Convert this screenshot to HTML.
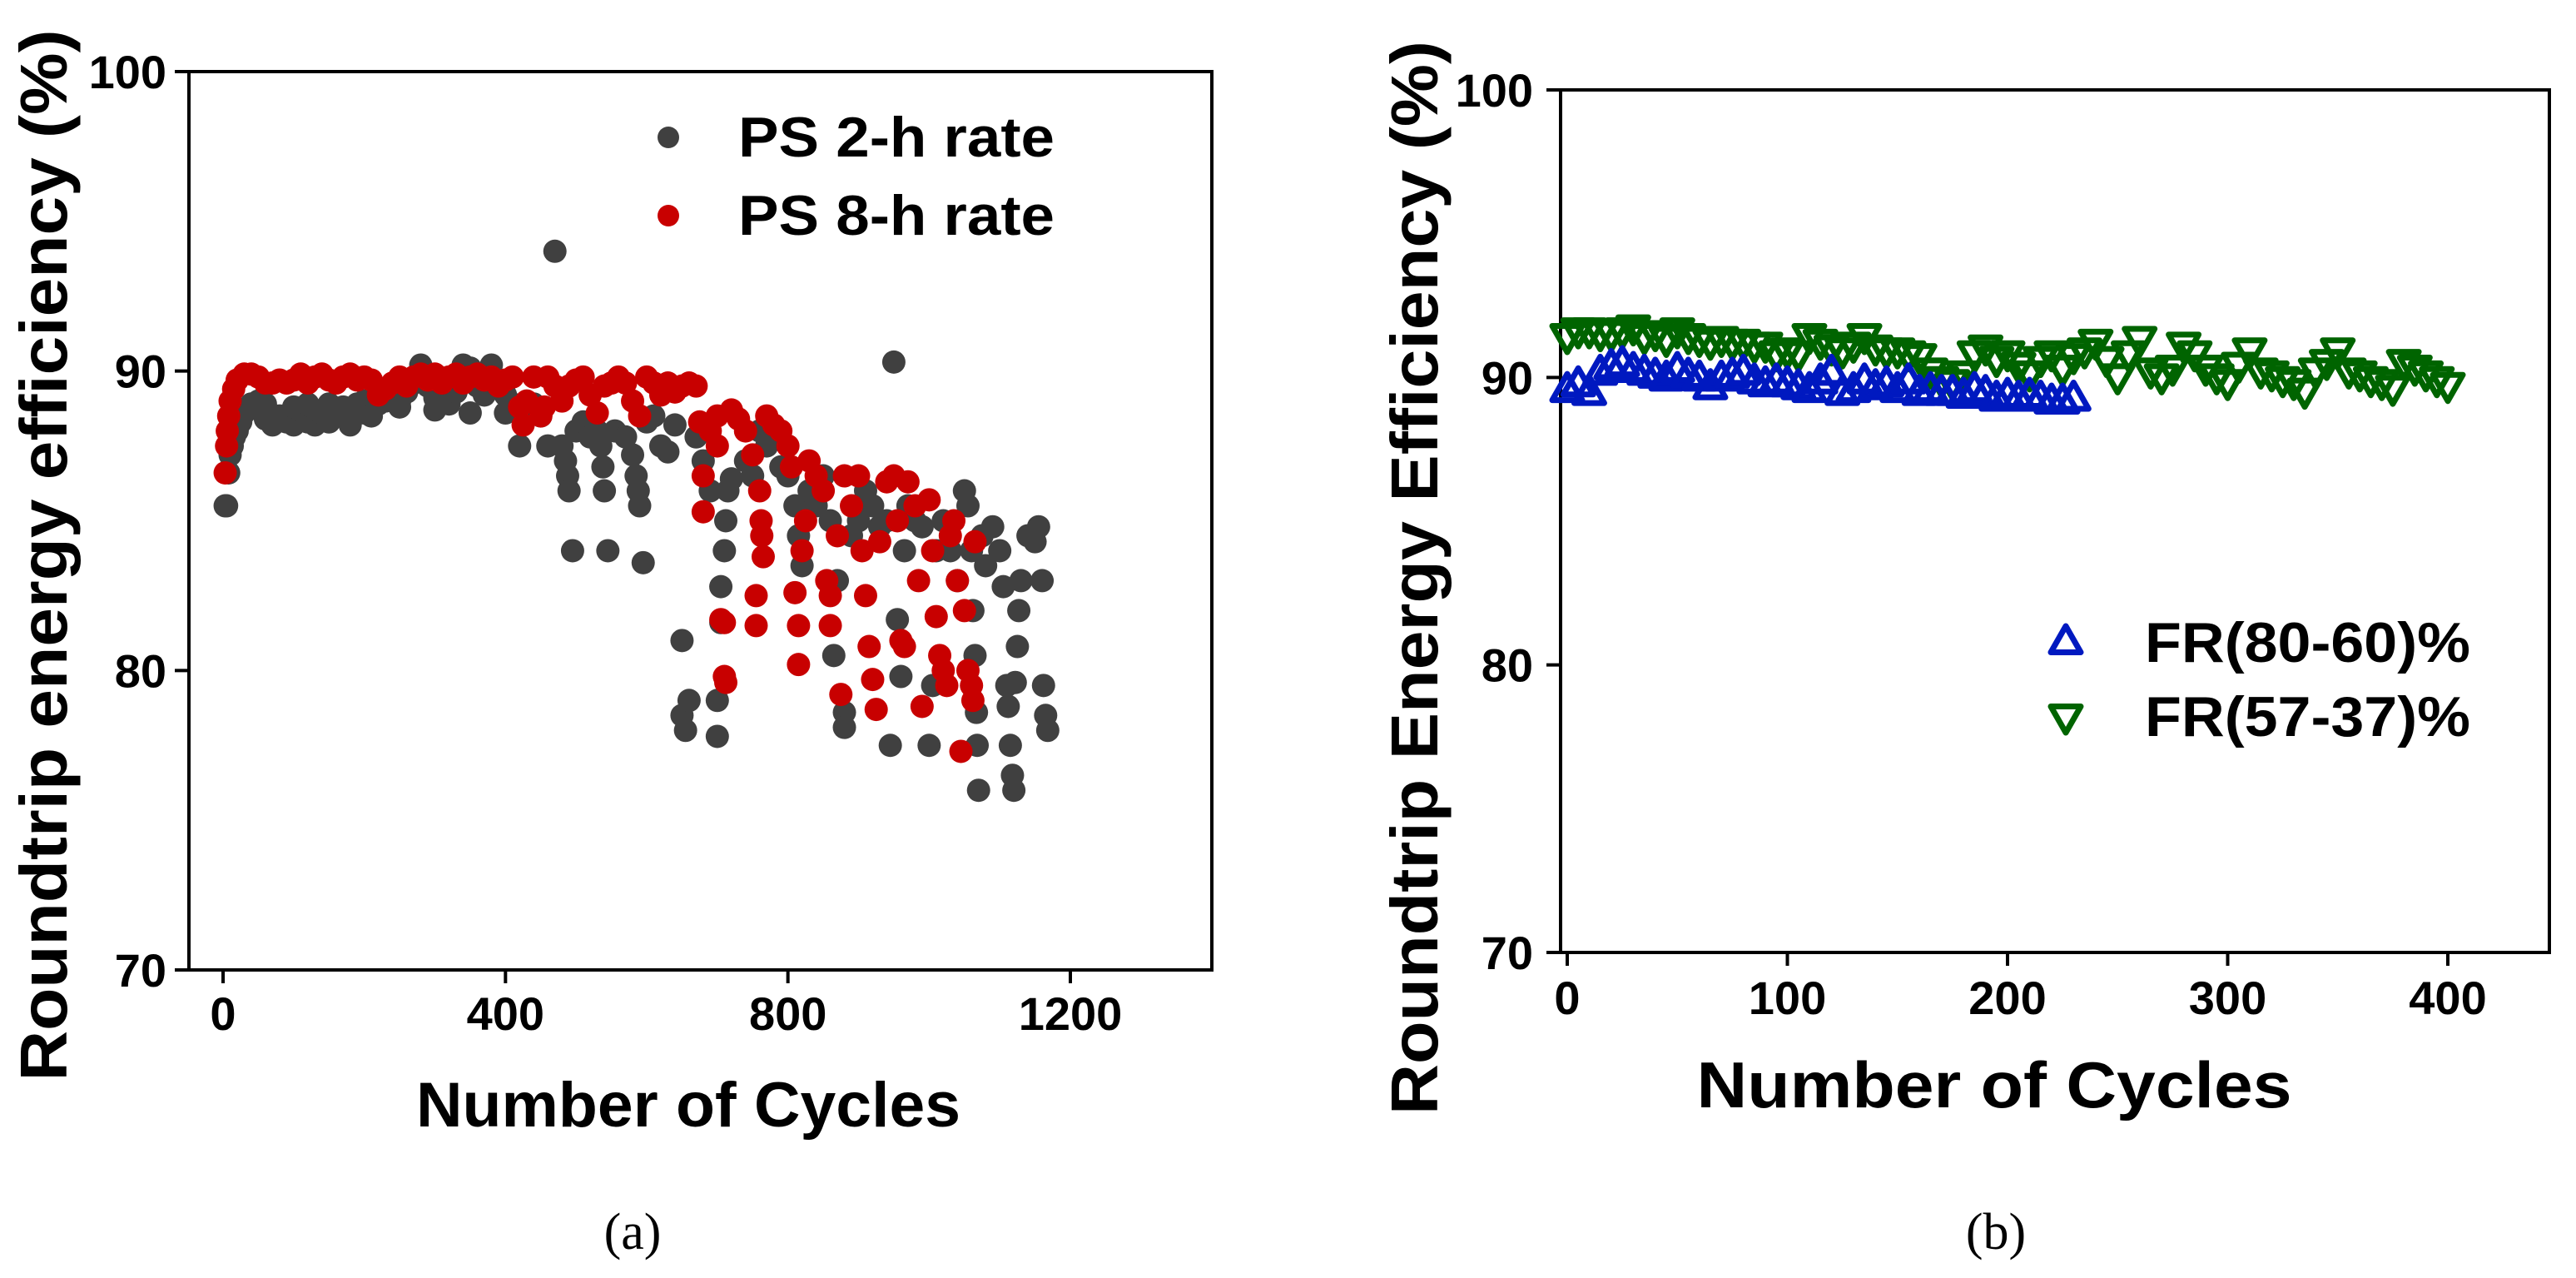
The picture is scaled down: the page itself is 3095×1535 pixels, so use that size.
<!DOCTYPE html>
<html><head><meta charset="utf-8"><style>
html,body{margin:0;padding:0;background:#fff;}
svg{display:block;}
text{font-family:"Liberation Sans",Arial,sans-serif;font-weight:bold;fill:#000;}
</style></head><body>
<svg id="fig" width="3095" height="1535" viewBox="0 0 3095 1535" xmlns="http://www.w3.org/2000/svg">
<g id="chartA"></g>
<g id="chartB"></g>
<text x="760" y="1500" text-anchor="middle" style="font-family:'Liberation Serif',serif;font-weight:normal;font-size:62px">(a)</text>
<text x="2398" y="1500" text-anchor="middle" style="font-family:'Liberation Serif',serif;font-weight:normal;font-size:62px">(b)</text>
</svg>
<script>
// ---------- Chart A data ----------
const aXTicks = [0, 400, 800, 1200];
const aYTicks = [70, 80, 90, 100];
const aSeriesNames = ["PS 2-h rate", "PS 8-h rate"];
const aGray = [[3,85.5],[5,85.5],[8,86.6],[10,87.2],[13,87.5],[16,87.8],[20,88],[25,88.3],[30,88.6],[40,88.9],[50,89],[60,88.4],[60,88.9],[70,88.2],[80,88.5],[90,88.3],[100,88.2],[100,88.8],[110,88.7],[120,88.3],[120,88.9],[130,88.2],[140,88.6],[150,88.9],[150,88.3],[160,88.5],[170,88.8],[180,88.6],[180,88.2],[190,88.9],[200,88.6],[200,89],[210,88.5],[220,88.9],[230,89],[240,89.1],[250,89],[250,88.8],[260,89.3],[270,89.6],[280,90.2],[290,89.5],[300,89.1],[300,88.7],[310,89],[320,88.9],[330,89.3],[340,90.2],[350,90.1],[350,88.6],[360,89.5],[370,89.2],[380,90.2],[390,89.4],[400,89.2],[400,88.6],[410,88.9],[420,87.5],[430,88.6],[440,88.9],[450,88.5],[460,87.5],[470,94],[480,87.5],[485,87],[488,86.5],[490,86],[495,84],[500,88],[510,88.3],[520,87.8],[530,88],[535,87.5],[538,86.8],[540,86],[545,84],[555,88],[570,87.8],[580,87.2],[585,86.5],[588,86],[590,85.5],[595,83.6],[600,88.3],[610,88.5],[620,87.5],[630,87.3],[640,88.2],[650,81],[650,78.5],[655,78],[660,79],[670,87.8],[680,87],[690,86],[700,77.8],[700,79],[705,81.6],[705,82.8],[710,84],[712,85],[715,86],[720,86.4],[740,87],[750,86.5],[760,88],[770,87.5],[790,86.8],[800,86.5],[810,85.5],[815,84.5],[820,83.5],[830,86],[840,85.5],[850,86.5],[860,85],[865,80.5],[870,83],[880,78.6],[880,78.1],[890,84.5],[900,85],[910,86],[920,85.5],[930,84.8],[940,85],[945,77.5],[950,90.3],[955,81.7],[960,79.8],[965,84],[970,85.5],[980,85],[990,84.8],[1000,77.5],[1005,79.5],[1010,84],[1020,85],[1030,84],[1040,83],[1050,86],[1055,85.5],[1060,84],[1062,82],[1065,80.5],[1067,78.6],[1068,77.5],[1070,76],[1075,84.5],[1080,83.5],[1090,84.8],[1100,84],[1105,82.8],[1110,79.5],[1112,78.8],[1115,77.5],[1118,76.5],[1120,76],[1122,79.6],[1125,80.8],[1127,82],[1130,83],[1140,84.5],[1150,84.3],[1155,84.8],[1160,83],[1162,79.5],[1165,78.5],[1168,78]];
const aRed = [[3,86.6],[5,87.5],[6,88],[8,88.5],[10,89],[15,89.4],[20,89.7],[30,89.9],[40,89.9],[50,89.8],[60,89.6],[70,89.6],[80,89.7],[90,89.6],[100,89.7],[110,89.9],[120,89.6],[130,89.8],[140,89.9],[150,89.7],[160,89.6],[170,89.8],[180,89.9],[190,89.7],[200,89.8],[210,89.7],[220,89.2],[230,89.4],[240,89.6],[250,89.8],[260,89.5],[270,89.8],[280,89.9],[290,89.7],[300,89.9],[310,89.6],[320,89.8],[330,89.9],[340,89.6],[350,89.8],[360,89.9],[370,89.7],[380,89.8],[390,89.5],[400,89.7],[410,89.8],[420,88.8],[425,88.2],[430,89],[440,89.8],[450,88.5],[455,88.8],[460,89.8],[470,89.5],[480,89],[490,89.5],[500,89.7],[510,89.8],[520,89.2],[530,88.6],[540,89.5],[550,89.6],[560,89.8],[570,89.6],[580,89],[590,88.5],[600,89.8],[610,89.6],[620,89.2],[630,89.6],[640,89.3],[650,89.5],[660,89.6],[670,89.5],[675,88.3],[680,86.5],[680,85.3],[690,88],[700,87.5],[700,88.5],[705,81.7],[710,81.6],[710,79.8],[712,79.6],[720,88.7],[730,88.4],[740,88],[750,87.2],[755,82.5],[755,81.5],[760,86],[762,85],[763,84.5],[765,83.8],[770,88.5],[780,88.2],[790,88],[800,87.5],[805,86.8],[810,82.6],[815,81.5],[815,80.2],[820,84],[825,85],[830,87],[840,86.5],[850,86],[855,83],[860,81.5],[860,82.5],[870,84.5],[875,79.2],[880,86.5],[890,85.5],[900,86.5],[905,84],[910,82.5],[915,80.8],[920,79.7],[925,78.7],[930,84.3],[940,86.3],[950,86.5],[955,85],[960,81],[965,80.8],[970,86.3],[980,85.5],[985,83],[990,78.8],[1000,85.7],[1005,84],[1010,81.8],[1015,80.5],[1020,80],[1025,79.5],[1030,84.5],[1035,85],[1040,83],[1045,77.3],[1050,82],[1055,80],[1060,79.5],[1062,79],[1065,84.3]];

// ---------- Chart B data ----------
const bXTicks = [0, 100, 200, 300, 400];
const bYTicks = [70, 80, 90, 100];
const bSeriesNames = ["FR(80-60)%", "FR(57-37)%"];
const bBlue = [[0,89.6],[5,89.8],[10,89.5],[15,90.2],[20,90.4],[25,90.5],[30,90.3],[35,90.2],[40,90.1],[45,90.0],[50,90.3],[55,90.1],[60,90.0],[65,89.7],[70,90.0],[75,90.1],[80,90.2],[85,89.9],[90,89.8],[95,89.9],[100,89.8],[105,89.7],[110,89.6],[115,89.9],[120,90.2],[125,89.5],[130,89.6],[135,89.9],[140,89.7],[145,89.8],[150,89.6],[155,89.9],[160,89.5],[165,89.6],[170,89.5],[175,89.5],[180,89.4],[185,89.6],[190,89.5],[195,89.3],[200,89.4],[205,89.3],[210,89.4],[215,89.3],[220,89.2],[225,89.2],[230,89.3]];
const bGreen = [[0,91.4],[5,91.6],[10,91.6],[15,91.5],[20,91.5],[25,91.6],[30,91.7],[35,91.4],[40,91.5],[45,91.3],[50,91.6],[55,91.4],[60,91.3],[65,91.2],[70,91.3],[75,91.2],[80,91.2],[85,91.1],[90,91.1],[95,90.8],[100,90.9],[105,90.8],[110,91.4],[115,91.2],[120,91.0],[125,90.9],[130,91.1],[135,91.4],[140,91.0],[145,90.9],[150,90.9],[155,90.8],[160,90.7],[165,90.2],[170,89.9],[175,89.8],[180,90.1],[185,90.8],[190,91.0],[195,90.6],[200,90.8],[205,90.4],[210,90.1],[215,90.6],[220,90.8],[225,90.3],[230,90.7],[235,90.9],[240,91.2],[245,90.6],[250,90.0],[255,90.8],[260,91.3],[265,90.2],[270,90.0],[275,90.3],[280,91.1],[285,90.8],[290,90.3],[295,90.0],[300,89.8],[305,90.4],[310,90.9],[315,90.2],[320,90.1],[325,89.9],[330,89.8],[335,89.5],[340,90.2],[345,90.5],[350,90.9],[355,90.2],[360,90.1],[365,89.9],[370,89.8],[375,89.6],[380,90.5],[385,90.3],[390,90.1],[395,89.9],[400,89.7]];

const NS = "http://www.w3.org/2000/svg";
function mk(tag, attrs, parent){ const e=document.createElementNS(NS,tag); for(const k in attrs) e.setAttribute(k,attrs[k]); parent.appendChild(e); return e; }

const aX = v => 268 + (v-0)*(1286-268)/1200;
const aY = v => 1165 - (v-70)*(1165-86)/30;
const bX = v => 1883 + (v-0)*(2941-1883)/400;
const bY = v => 1144 - (v-70)*(1144-108)/30;

function drawAxes(g, box, xs, ys, xTicks, yTicks, xLabelY, yLabelX, pfx){
  const fr = mk('rect',{x:box[0],y:box[1],width:box[2]-box[0],height:box[3]-box[1],fill:'none',stroke:'#000','stroke-width':4},g);
  
  
  xTicks.forEach(t=>{
    const l=mk('line',{x1:xs(t),x2:xs(t),y1:box[3],y2:box[3]+16,stroke:'#000','stroke-width':4},g);
    
    
    const tx=mk('text',{x:xs(t),y:xLabelY,'text-anchor':'middle','font-size':56},g);
    tx.textContent=t;
    
    
  });
  yTicks.forEach(t=>{
    const l=mk('line',{x1:box[0]-17,x2:box[0],y1:ys(t),y2:ys(t),stroke:'#000','stroke-width':4},g);
    
    
    const tx=mk('text',{x:yLabelX,y:ys(t)+20,'text-anchor':'end','font-size':56},g);
    tx.textContent=t;
    
    
  });
}

// ---------- Chart A ----------
const gA=document.getElementById('chartA');
drawAxes(gA,[227,86,1456,1165],aX,aY,aXTicks,aYTicks,1237,200,'a-');
aGray.forEach(p=>{
  const c=mk('circle',{cx:aX(p[0]),cy:aY(p[1]),r:14,fill:'#404040'},gA);
  
  
});
aRed.forEach(p=>{
  const c=mk('circle',{cx:aX(p[0]),cy:aY(p[1]),r:14,fill:'#c80000'},gA);
  
  
});
[[165,'#404040',188],[259,'#c80000',282]].forEach((L,i)=>{
  const c=mk('circle',{cx:803,cy:L[0],r:13,fill:L[1]},gA);
  
  
  const t=mk('text',{x:887,y:L[2],'font-size':68,textLength:380,lengthAdjust:'spacingAndGlyphs'},gA);
  t.textContent=aSeriesNames[i];
  
  
});
let t1=mk('text',{x:827,y:1353,'text-anchor':'middle','font-size':76,textLength:654,lengthAdjust:'spacingAndGlyphs'},gA);
t1.textContent='Number of Cycles';


let t2=mk('text',{x:0,y:0,'text-anchor':'middle','font-size':80,textLength:1263,lengthAdjust:'spacingAndGlyphs',transform:'translate(80,667) rotate(-90)'},gA);
t2.textContent='Roundtrip energy efficiency (%)';



// ---------- Chart B ----------
const gB=document.getElementById('chartB');
drawAxes(gB,[1875,108,3063,1144],bX,bY,bXTicks,bYTicks,1218,1842,'b-');
function tri(cx,cy,up,color,g,name){
  const s=18;
  const pts= up ? `${cx},${cy-s} ${cx+s},${cy+s*0.75} ${cx-s},${cy+s*0.75}` : `${cx},${cy+s} ${cx+s},${cy-s*0.75} ${cx-s},${cy-s*0.75}`;
  const p=mk('polygon',{points:pts,fill:'none',stroke:color,'stroke-width':7,'stroke-linejoin':'round'},g);
  
  
}
bGreen.forEach(p=>tri(bX(p[0]),bY(p[1]),false,'#006400',gB,'fr-57-37-point'));
bBlue.forEach(p=>tri(bX(p[0]),bY(p[1]),true,'#0019c0',gB,'fr-80-60-point'));
tri(2482,770,true,'#0019c0',gB,'legend-marker');
tri(2482,862,false,'#006400',gB,'legend-marker');
[[795,0],[884,1]].forEach(L=>{
  const t=mk('text',{x:2577,y:L[0],'font-size':68,textLength:391,lengthAdjust:'spacingAndGlyphs'},gB);
  t.textContent=bSeriesNames[L[1]];
  
  
});
let t3=mk('text',{x:2396,y:1330,'text-anchor':'middle','font-size':78,textLength:715,lengthAdjust:'spacingAndGlyphs'},gB);
t3.textContent='Number of Cycles';


let t4=mk('text',{x:0,y:0,'text-anchor':'middle','font-size':80,textLength:1290,lengthAdjust:'spacingAndGlyphs',transform:'translate(1727,694) rotate(-90)'},gB);
t4.textContent='Roundtrip Energy Efficiency (%)';


</script>
</body></html>
